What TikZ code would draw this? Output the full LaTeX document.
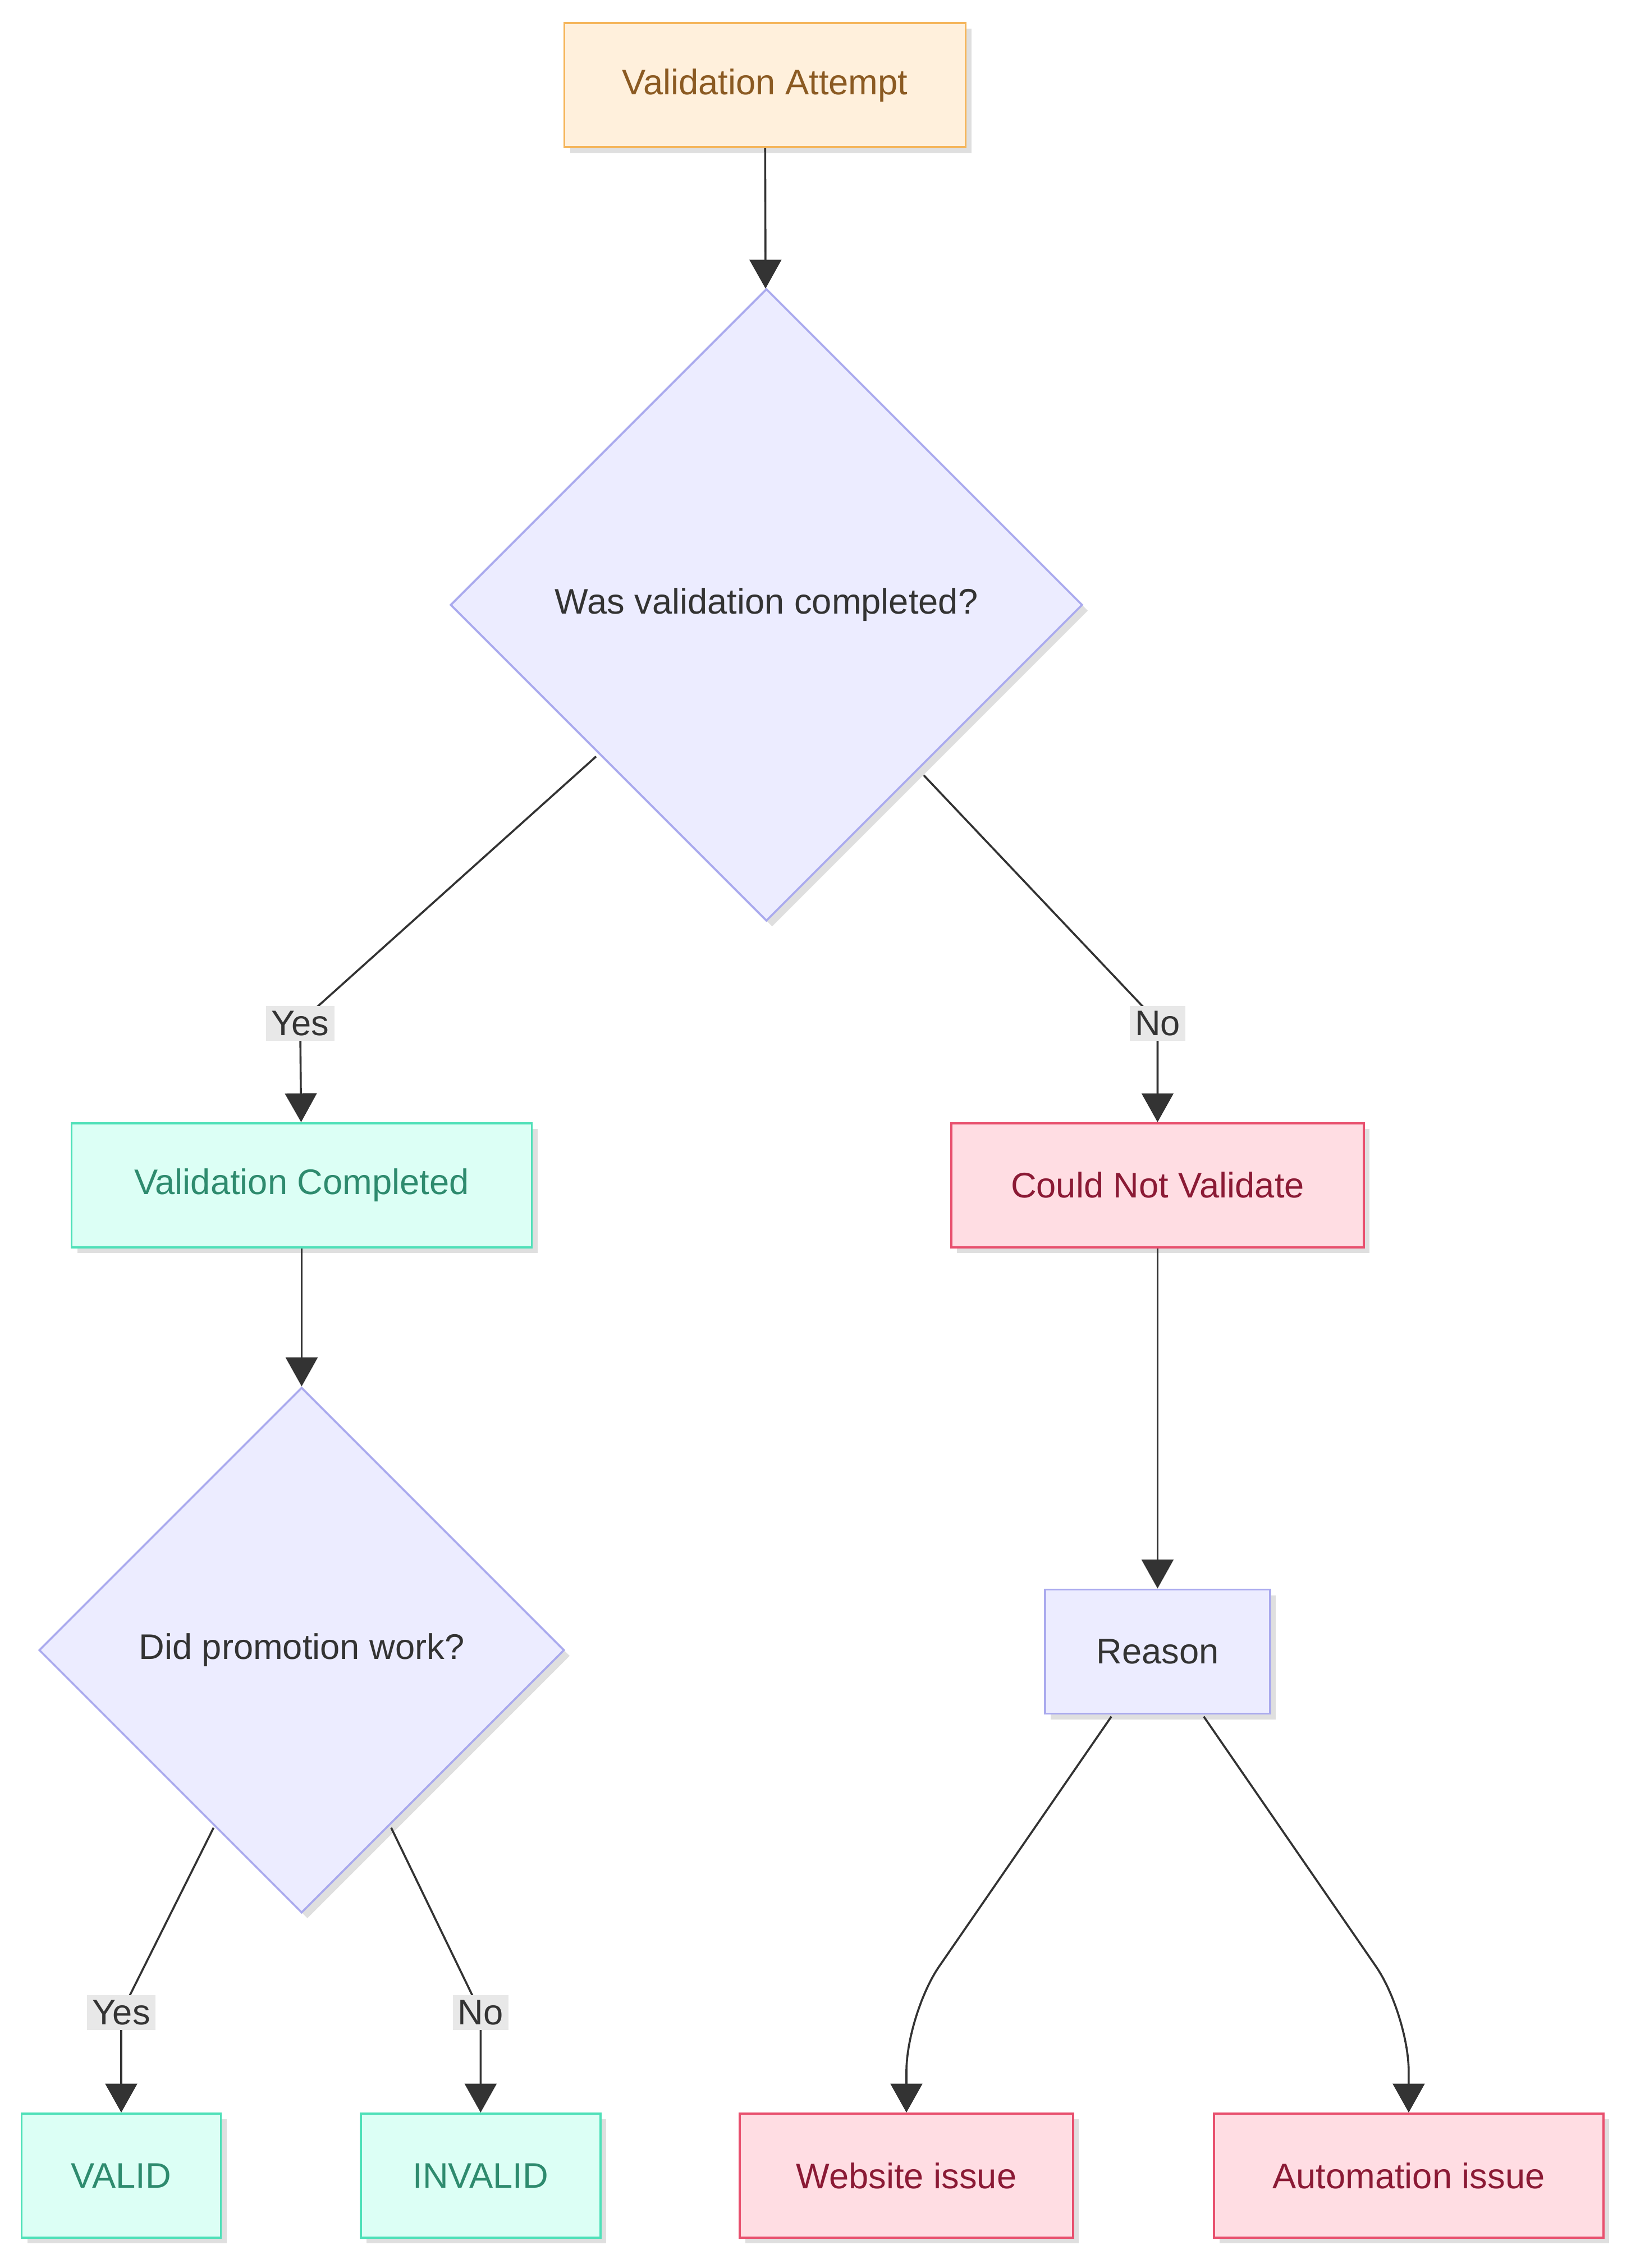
\documentclass[tikz,border=0pt]{standalone}
\usepackage{fontspec}
\setmainfont{Liberation Sans}
\usetikzlibrary{shapes.geometric,arrows.meta,shadows}
\definecolor{stfill}{HTML}{FFF0DC}\definecolor{stdraw}{HTML}{F5B55A}\definecolor{sttext}{HTML}{8B5A22}
\definecolor{dfill}{HTML}{ECECFF}\definecolor{ddraw}{HTML}{AAAAEE}\definecolor{dtext}{HTML}{333333}
\definecolor{okfill}{HTML}{DCFFF5}\definecolor{okdraw}{HTML}{4FE0B8}\definecolor{oktext}{HTML}{2E8B6E}
\definecolor{badfill}{HTML}{FFDDE3}\definecolor{baddraw}{HTML}{E8506E}\definecolor{badtext}{HTML}{8B1A35}
\definecolor{lbl}{HTML}{E8E8E8}
\tikzset{box/.style={draw,line width=0.8pt,minimum height=1.72cm,inner xsep=0pt,font=\fontsize{14}{14}\selectfont,drop shadow={opacity=0.25,shadow xshift=0.08cm,shadow yshift=-0.08cm}}}
\tikzset{st/.style={box,fill=stfill,draw=stdraw,text=sttext}}
\tikzset{ok/.style={box,fill=okfill,draw=okdraw,text=oktext}}
\tikzset{bad/.style={box,fill=badfill,draw=baddraw,text=badtext}}
\tikzset{dec/.style={box,diamond,fill=dfill,draw=ddraw,text=dtext,inner sep=0pt}}
\tikzset{l/.style={fill=lbl,text=dtext,inner sep=2pt,font=\fontsize{14}{14}\selectfont}}
\tikzset{arr/.style={draw=dtext,line width=0.8pt,-{Triangle[width=0.44cm,length=0.4cm]},rounded corners=0.8cm}}
\begin{document}
\begin{tikzpicture}[x=0.02cm,y=-0.02cm]
  \useasboundingbox (0,0) rectangle (1130,1571);
  \node[st,minimum width=5.56cm] (A) at (530,59) {Validation Attempt};
  \node[dec,minimum width=8.76cm,minimum height=8.76cm] (Q1) at (531,419) {Was validation completed?};
  \node[ok,minimum width=6.38cm] (VC) at (209,821) {Validation Completed};
  \node[bad,minimum width=5.72cm] (CN) at (802,821) {Could Not Validate};
  \node[dec,minimum width=7.28cm,minimum height=7.28cm] (Q2) at (209,1143) {Did promotion work?};
  \node[dec,diamond=false,rectangle,minimum width=3.12cm] (R) at (802,1144) {Reason};
  \node[ok,minimum width=2.76cm] (V) at (84,1507) {VALID};
  \node[ok,minimum width=3.32cm] (IV) at (333,1507) {INVALID};
  \node[bad,minimum width=4.62cm] (W) at (628,1507) {Website issue};
  \node[bad,minimum width=5.4cm] (AU) at (976,1507) {Automation issue};
  % connectors
  \draw[arr] (A) -- (Q1);
  \draw[arr,rounded corners=0pt] (Q1.south west) ++(102,-50) coordinate (q1a) (413,524) -- (208,708) -- (VC);
  \draw[arr,rounded corners=0pt] (640,537) -- (802,708) -- (CN);
  \draw[arr] (VC) -- (Q2);
  \draw[arr] (CN) -- (R);
  \draw[arr,rounded corners=0pt] (148,1266) -- (84,1394) -- (V);
  \draw[arr,rounded corners=0pt] (271,1266) -- (333,1394) -- (IV);
  \draw[arr] (770,1189) -- (628,1395) -- (W);
  \draw[arr] (834,1189) -- (976,1395) -- (AU);
  % labels
  \node[l] at (208,709) {Yes};
  \node[l] at (802,709) {No};
  \node[l] at (84,1394) {Yes};
  \node[l] at (333,1394) {No};
\end{tikzpicture}
\end{document}
